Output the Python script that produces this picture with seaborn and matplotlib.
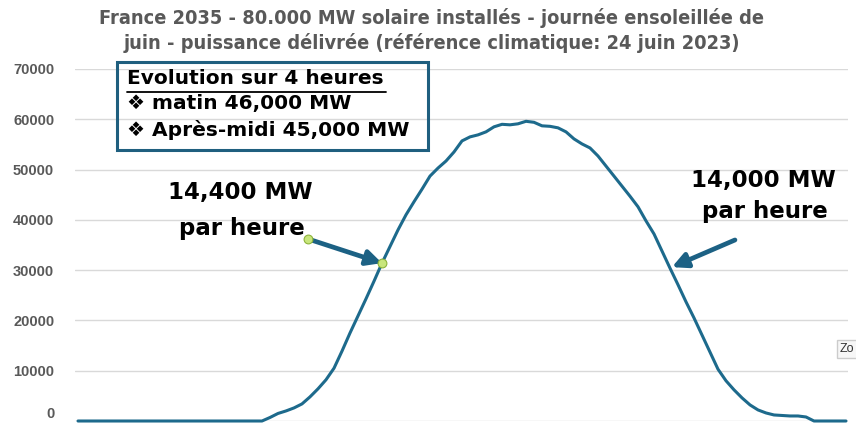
import numpy as np
import pandas as pd
import matplotlib
matplotlib.use("Agg")
import matplotlib.pyplot as plt
import seaborn as sns
from matplotlib.patches import Rectangle

# puissance délivrée, pas de 15 minutes (00:00 -> 24:00)
heures = np.arange(97) / 4
puissance = [0] * 24 + [
    700, 1500, 2000, 2600, 3400, 4800, 6400, 8200, 10500, 13900,
    17500, 20900, 24300, 27800, 31400, 34700, 38000, 41000, 43600, 46100,
    48700, 50300, 51700, 53500, 55700, 56500, 56900, 57500, 58500, 59000,
    58900, 59100, 59600, 59400, 58700, 58600, 58300, 57500, 56100, 55100,
    54300, 52700, 50700, 48700, 46700, 44700, 42600, 39800, 37200, 33800,
    30400, 27100, 23700, 20500, 17100, 13700, 10300, 8000, 6200, 4600,
    3200, 2200, 1600, 1200, 1100, 1000, 1000, 800,
] + [0] * 5
y_ticks = [0, 10000, 20000, 30000, 40000, 50000, 60000, 70000]

titre = ["France 2035 - 80.000 MW solaire installés - journée ensoleillée de",
         "juin - puissance délivrée (référence climatique: 24 juin 2023)"]
encadre = ["Evolution sur 4 heures", "\u2756 matin 46,000 MW", "\u2756 Après-midi 45,000 MW"]

df = pd.DataFrame({"heure": heures, "MW": puissance})

sns.set_style("white")
plt.rcParams["font.family"] = ["Liberation Sans", "DejaVu Sans"]

W, H = 856, 425
fig = plt.figure(figsize=(W / 100, H / 100), dpi=100)
ax = fig.add_axes([75 / W, 1 - 421 / H, (848 - 75) / W, (421 - 69) / H])

bleu = "#1d6a8c"
sns.lineplot(data=df, x="heure", y="MW", ax=ax, color=bleu, linewidth=2.2, clip_on=False)

ax.set_xlim(-3 / 32, 24 + 2 / 32)
ax.set_ylim(0, 70000)
ax.set_yticks(y_ticks)
ax.set_yticklabels([str(v) for v in y_ticks], fontsize=10.5, fontweight="bold", color="#595959")
ax.tick_params(axis="y", length=0, pad=15)
for lab in ax.get_yticklabels():
    if lab.get_text() == "0":
        lab.set_va("bottom")
ax.set_xticks([])
ax.set_xlabel("")
ax.set_ylabel("")
ax.grid(axis="y", color="#d9d9d9", linewidth=1)
ax.set_axisbelow(True)
for s in ax.spines.values():
    s.set_visible(False)

def px(x, y):
    return x / W, 1 - y / H

# titre
for ligne, yy in zip(titre, [18, 43]):
    fig.text(*px(432, yy), ligne, ha="center", va="center", fontsize=14.3,
             fontweight="bold", color="#595959", family=["DejaVu Sans"], stretch="condensed")

# encadré
fig.patches.append(Rectangle(px(117, 150), (428 - 117) / W, (150 - 62) / H,
                             transform=fig.transFigure, fill=False,
                             edgecolor="#1f5f7f", linewidth=2.2))
for ligne, yy in zip(encadre, [79, 104, 130]):
    fig.text(*px(127, yy), ligne, ha="left", va="center", fontsize=14.5,
             fontweight="bold", color="black", family=["DejaVu Sans"])
fig.lines.append(plt.Line2D([127 / W, 386 / W], [1 - 92 / H, 1 - 92 / H],
                            transform=fig.transFigure, color="black", linewidth=1.3))

# annotations
for txt, (x, y) in [("14,400 MW", (240, 193)), ("par heure", (242, 228)),
                    ("14,000 MW", (763, 181)), ("par heure", (765, 212))]:
    fig.text(*px(x, y), txt, ha="center", va="center", fontsize=16.5,
             fontweight="bold", color="black", family=["DejaVu Sans"])

fleche = dict(arrowstyle="-|>,head_length=0.9,head_width=0.45", color="#1c6184",
              linewidth=3.4, shrinkA=0, shrinkB=0)
ax.annotate("", xy=(9.5, 31400), xytext=(7.19, 36200), arrowprops=fleche)
ax.annotate("", xy=(18.56, 30600), xytext=(20.53, 36000), arrowprops=fleche)
ax.scatter([7.19, 9.5], [36200, 31400], s=40, color="#c8e67c", edgecolor="#8db33a",
           linewidth=0.8, zorder=5)

# bulle "Zo"
fig.text(*px(840, 349), "Zo", ha="left", va="center", fontsize=9, color="#333333",
         bbox=dict(boxstyle="square,pad=0.25", facecolor="#f7f7f7", edgecolor="#cccccc"))

fig.savefig("out.png", dpi=100)
